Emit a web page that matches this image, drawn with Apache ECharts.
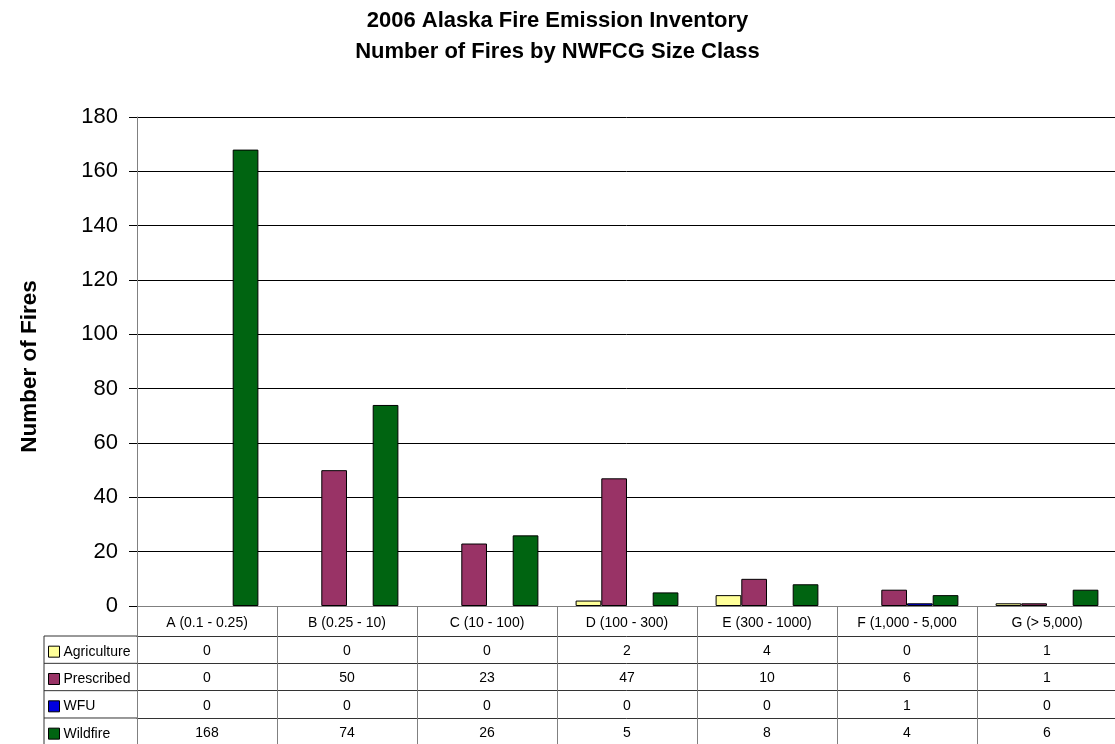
<!DOCTYPE html>
<html><head><meta charset="utf-8">
<script src="https://cdn.jsdelivr.net/npm/echarts@6/dist/echarts.min.js"></script>
<style>html,body{margin:0;padding:0;background:#fff}#c{width:1115px;height:744px}</style>
</head><body><div id="c"></div>
<script>
// ---- data ----
const titleLines = ['2006 Alaska Fire Emission Inventory', 'Number of Fires by NWFCG Size Class'];
const yAxisName = 'Number of Fires';
const categories = ['A (0.1 - 0.25)', 'B (0.25 - 10)', 'C (10 - 100)', 'D (100 - 300)', 'E (300 - 1000)', 'F (1,000 - 5,000', 'G (> 5,000)'];
const seriesNames = ['Agriculture', 'Prescribed', 'WFU', 'Wildfire'];
const agriculture = [0, 0, 0, 2, 4, 0, 1];
const prescribed = [0, 50, 23, 47, 10, 6, 1];
const wfu = [0, 0, 0, 0, 0, 1, 0];
const wildfire = [168, 74, 26, 5, 8, 4, 6];
const yMin = 0, yMax = 180, yInterval = 20;

// ---- styles / layout ----
const colors = ['#FFFF99', '#993366', '#0000E0', '#006411'];
const seriesValues = [agriculture, prescribed, wfu, wildfire];

function hasFont(f) {
  const c = document.createElement('canvas').getContext('2d');
  const s = 'Agriculture WFU 0123456789';
  c.font = '40px monospace'; const a = c.measureText(s).width;
  c.font = "40px '" + f + "', monospace"; return c.measureText(s).width !== a;
}
const narrow = hasFont('Liberation Sans Narrow');
const tFont = narrow ? "'Liberation Sans Narrow', 'Arial Narrow', sans-serif" : "'Liberation Sans', Arial, sans-serif";
const tSize = narrow ? 16 : 14;
const mainFont = "'Liberation Sans', Arial, Helvetica, sans-serif";

const W = 1115, H = 744;
const GL = 137, GT = 117, GBY = 606, GW = 980;
const headerH = 30, rowH = 27.33;
const tableLeft = 44;

const xAxes = [{
  type: 'category', gridIndex: 0, position: 'bottom', data: categories,
  axisLine: { show: true, lineStyle: { color: '#808080', width: 1 } },
  axisTick: { show: true, interval: 0, length: headerH, lineStyle: { color: '#808080' } },
  axisLabel: { interval: 0, margin: 10, fontSize: tSize, fontFamily: tFont, color: '#000' },
  splitLine: { show: false }
}];
seriesValues.forEach((vals, i) => {
  xAxes.push({
    type: 'category', gridIndex: 0, position: 'bottom', offset: headerH + i * rowH,
    data: vals.map(v => String(v)),
    axisLine: { show: true, lineStyle: { color: '#333', width: 1 } },
    axisTick: { show: true, interval: 0, length: rowH, lineStyle: { color: '#808080' } },
    axisLabel: { interval: 0, margin: 8, fontSize: tSize, fontFamily: tFont, color: '#000' },
    splitLine: { show: false }
  });
});

const graphics = [];
for (let i = 0; i < 4; i++) {
  const y = GBY + headerH + i * rowH;
  graphics.push({ type: 'line', shape: { x1: tableLeft, y1: y, x2: GL, y2: y }, style: { stroke: '#333', lineWidth: 1 }, silent: true });
}
graphics.push({ type: 'line', shape: { x1: tableLeft, y1: GBY + headerH, x2: tableLeft, y2: H + 5 }, style: { stroke: '#333', lineWidth: 1 }, silent: true });

const chart = echarts.init(document.getElementById('c'), null, { renderer: 'canvas', width: W, height: H });
chart.setOption({
  animation: false,
  backgroundColor: '#fff',
  title: {
    text: titleLines.join('\n'), left: 'center', top: 0,
    textStyle: { fontSize: 22, fontWeight: 'bold', fontFamily: mainFont, color: '#000', lineHeight: 31 }
  },
  legend: {
    orient: 'vertical', left: 48, top: GBY + headerH + rowH / 2 - 6, padding: 0,
    itemWidth: 11, itemHeight: 11, itemGap: rowH - 16, icon: 'rect',
    itemStyle: { borderColor: '#000', borderWidth: 1 },
    textStyle: { fontSize: tSize, fontFamily: tFont, color: '#000', lineHeight: 16, padding: [0, 0, 0, -1] },
    data: seriesNames, selectedMode: false
  },
  grid: { left: GL, top: GT, width: GW, bottom: H - GBY, containLabel: false, outerBoundsMode: 'none' },
  xAxis: xAxes,
  yAxis: {
    type: 'value', min: yMin, max: yMax, interval: yInterval,
    name: yAxisName, nameLocation: 'middle', nameGap: 96,
    nameTextStyle: { fontSize: 22.5, fontWeight: 'bold', fontFamily: mainFont, color: '#000', padding: [0, 10, 0, 0] },
    axisLine: { show: true, lineStyle: { color: '#808080', width: 1 } },
    axisTick: { show: true, length: 8, lineStyle: { color: '#000' } },
    axisLabel: { margin: 19, fontSize: 22, fontFamily: mainFont, color: '#000' },
    splitLine: { show: true, lineStyle: { color: '#000', width: 1 } }
  },
  graphic: graphics,
  series: seriesNames.map((name, i) => ({
    name, type: 'bar', xAxisIndex: 0, yAxisIndex: 0,
    data: seriesValues[i].map(v => (v === 0 ? null : v)),
    barWidth: 25.7, barGap: '0%',
    itemStyle: { color: colors[i], borderColor: '#000', borderWidth: 1 },
    emphasis: { disabled: true }
  }))
});
</script></body></html>
